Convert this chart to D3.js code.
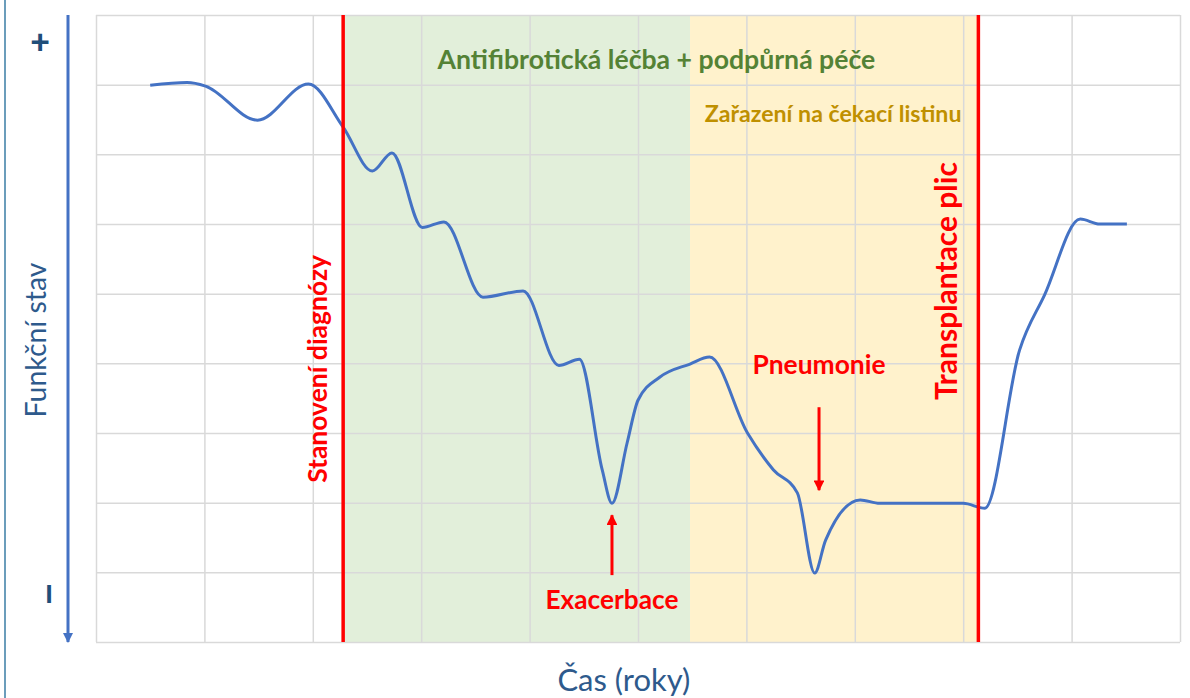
<!DOCTYPE html>
<html>
<head>
<meta charset="utf-8">
<script src="https://cdn.jsdelivr.net/npm/d3@7"></script>
<style>
  body { margin: 0; background: #fff; }
  .chart { width: 1190px; height: 698px; }
  text { font-family: Lato, "Open Sans", sans-serif; }
</style>
</head>
<body>
<div class="chart"></div>
<script>
// values (x = years grid, y = functional status grid)
const timeX = [0.50, 0.84, 1.01, 1.49, 1.96, 2.28, 2.55, 2.73, 3.01, 3.21, 3.57, 3.94, 4.27, 4.46,
  4.67, 4.76, 4.90, 5.00, 5.20, 5.48, 5.66, 6.01, 6.25, 6.47, 6.63, 6.73, 7.05, 7.23, 8.00, 8.20,
  8.52, 8.75, 9.08, 9.26, 9.51];
const statusY = [7.99, 8.03, 7.98, 7.49, 8.01, 7.39, 6.76, 7.02, 5.95, 6.03, 4.95, 5.04, 3.97, 4.06,
  2.47, 1.99, 2.86, 3.47, 3.80, 3.99, 4.09, 3.00, 2.47, 2.14, 0.99, 1.46, 2.04, 1.99, 1.99, 1.92,
  4.19, 4.98, 6.07, 6.00, 6.00];

const xTicks = d3.range(0, 11);
const yTicks = d3.range(0, 10);

// shaded phases
const phaseNames = ["Antifibrotická léčba + podpůrná péče", "Zařazení na čekací listinu"];
const phaseStart = [2.28, 5.48];
const phaseEnd = [5.48, 8.14];
const phaseFill = ["#e2efda", "#fff2cc"];
const phaseColor = ["#548235", "#bf9000"];
const phaseLabelX = [5.17, 6.8];
const phaseLabelY = [8.22, 7.46];
const phaseLabelW = [438, 257];

// red milestones
const eventNames = ["Stanovení diagnózy", "Transplantace plic"];
const eventX = [2.28, 8.14];
const eventLabelX = [2.13, 7.94];
const eventLabelY = [3.92, 5.18];
const eventLabelW = [228, 238];

// arrows for acute events
const noteNames = ["Exacerbace", "Pneumonie"];
const noteX = [4.76, 6.67];
const noteLabelY = [0.47, 3.85];
const arrowFrom = [0.96, 3.37];
const arrowTo = [1.82, 2.18];

let margin, width, height, svg, plot, xScale, yScale;

init();

function init() {
    setDimensions();
    setScales();
    appendElements();
}

function setDimensions() {
    margin = { top: 15, right: 10, bottom: 56, left: 96 };
    width = 1190 - margin.left - margin.right;
    height = 698 - margin.top - margin.bottom;
}

function setScales() {
    xScale = d3.scaleLinear().domain([0, 10]).range([0, width]);
    yScale = d3.scaleLinear().domain([0, 9]).range([height, 0]);
}

// scale a text's font size so it fills the measured width
function fitText(sel, target) {
    let len = sel.node().getComputedTextLength();
    let size = parseFloat(sel.attr("font-size"));
    sel.attr("font-size", size * target / len);
}

function appendElements() {
    svg = d3.select(".chart").append("svg")
        .attr("width", 1190)
        .attr("height", 698);

    let defs = svg.append("defs");
    defs.append("marker")
        .attr("id", "redHead")
        .attr("viewBox", "0 0 10 10")
        .attr("refX", 9).attr("refY", 5)
        .attr("markerWidth", 3.6).attr("markerHeight", 3.6)
        .attr("markerUnits", "strokeWidth")
        .attr("orient", "auto")
        .append("path").attr("d", "M0,0L10,5L0,10Z").attr("fill", "#ff0000");
    defs.append("marker")
        .attr("id", "blueHead")
        .attr("viewBox", "0 0 10 10")
        .attr("refX", 9).attr("refY", 5)
        .attr("markerWidth", 3.5).attr("markerHeight", 3.5)
        .attr("markerUnits", "strokeWidth")
        .attr("orient", "auto")
        .append("path").attr("d", "M0,0L10,5L0,10Z").attr("fill", "#4472c4");

    // frame line at far left
    svg.append("line")
        .attr("x1", 5).attr("x2", 5)
        .attr("y1", 0).attr("y2", 698)
        .attr("stroke", "#3a7ca5").attr("stroke-width", 1.5);

    plot = svg.append("g").attr("transform", `translate(${margin.left},${margin.top})`);

    // phase bands
    plot.selectAll(".band")
        .data(phaseStart)
        .enter().append("rect")
        .attr("class", "band")
        .attr("x", (d, i) => xScale(d))
        .attr("width", (d, i) => xScale(phaseEnd[i]) - xScale(d))
        .attr("y", 0)
        .attr("height", height)
        .attr("fill", (d, i) => phaseFill[i]);

    // grid
    plot.append("g")
        .call(d3.axisBottom(xScale).tickValues(xTicks).tickSize(height).tickFormat(""))
        .call(g => g.select(".domain").remove())
        .selectAll("line").attr("stroke", "#d9d9d9").attr("stroke-width", 1.5);
    plot.append("g")
        .call(d3.axisRight(yScale).tickValues(yTicks).tickSize(width).tickFormat(""))
        .call(g => g.select(".domain").remove())
        .selectAll("line").attr("stroke", "#d9d9d9").attr("stroke-width", 1.5);

    // status curve
    let pts = timeX.map((t, i) => ({ t: t, v: statusY[i] }));
    let line = d3.line()
        .x(d => xScale(d.t))
        .y(d => yScale(d.v))
        .curve(d3.curveMonotoneX);
    plot.append("path")
        .attr("d", line(pts))
        .attr("fill", "none")
        .attr("stroke", "#4472c4")
        .attr("stroke-width", 3);

    // milestone lines
    plot.selectAll(".event")
        .data(eventX)
        .enter().append("line")
        .attr("x1", d => xScale(d)).attr("x2", d => xScale(d))
        .attr("y1", 0).attr("y2", height)
        .attr("stroke", "#ff0000").attr("stroke-width", 3.5);

    // phase labels
    phaseNames.forEach((name, i) => {
        let t = plot.append("text")
            .attr("x", xScale(phaseLabelX[i]))
            .attr("y", yScale(phaseLabelY[i]))
            .attr("text-anchor", "middle")
            .attr("font-weight", "bold")
            .attr("font-size", 22)
            .attr("fill", phaseColor[i])
            .text(name);
        fitText(t, phaseLabelW[i]);
    });

    // milestone labels, rotated
    eventNames.forEach((name, i) => {
        let t = plot.append("text")
            .attr("transform", `translate(${xScale(eventLabelX[i])},${yScale(eventLabelY[i])}) rotate(-90)`)
            .attr("text-anchor", "middle")
            .attr("font-weight", "bold")
            .attr("font-size", 24)
            .attr("fill", "#ff0000")
            .text(name);
        fitText(t, eventLabelW[i]);
    });

    // acute event labels + arrows
    noteNames.forEach((name, i) => {
        let t = plot.append("text")
            .attr("x", xScale(noteX[i]))
            .attr("y", yScale(noteLabelY[i]))
            .attr("text-anchor", "middle")
            .attr("font-weight", "bold")
            .attr("font-size", 24)
            .attr("fill", "#ff0000")
            .text(name);
        fitText(t, 133);
        plot.append("line")
            .attr("x1", xScale(noteX[i])).attr("x2", xScale(noteX[i]))
            .attr("y1", yScale(arrowFrom[i])).attr("y2", yScale(arrowTo[i]))
            .attr("stroke", "#ff0000").attr("stroke-width", 3)
            .attr("marker-end", "url(#redHead)");
    });

    // y axis: arrow from + to -
    svg.append("line")
        .attr("x1", 68).attr("x2", 68)
        .attr("y1", margin.top).attr("y2", margin.top + height)
        .attr("stroke", "#4472c4").attr("stroke-width", 3)
        .attr("marker-end", "url(#blueHead)");

    svg.append("text")
        .attr("x", 40).attr("y", 54)
        .attr("text-anchor", "middle")
        .attr("font-weight", "900")
        .attr("font-size", 34)
        .attr("fill", "#1f4e79")
        .text("+");
    svg.append("text")
        .attr("x", 49).attr("y", 603)
        .attr("text-anchor", "middle")
        .attr("font-weight", "900")
        .attr("font-size", 25)
        .attr("fill", "#1f4e79")
        .text("I");

    let yt = svg.append("text")
        .attr("transform", "translate(46,340) rotate(-90)")
        .attr("text-anchor", "middle")
        .attr("font-size", 24)
        .attr("fill", "#2e5a8c")
        .text("Funkční stav");
    fitText(yt, 155);

    let xt = svg.append("text")
        .attr("x", margin.left + xScale(4.87))
        .attr("y", 691)
        .attr("text-anchor", "middle")
        .attr("font-size", 24)
        .attr("fill", "#2e5a8c")
        .text("Čas (roky)");
    fitText(xt, 133);
}
</script>
</body>
</html>
